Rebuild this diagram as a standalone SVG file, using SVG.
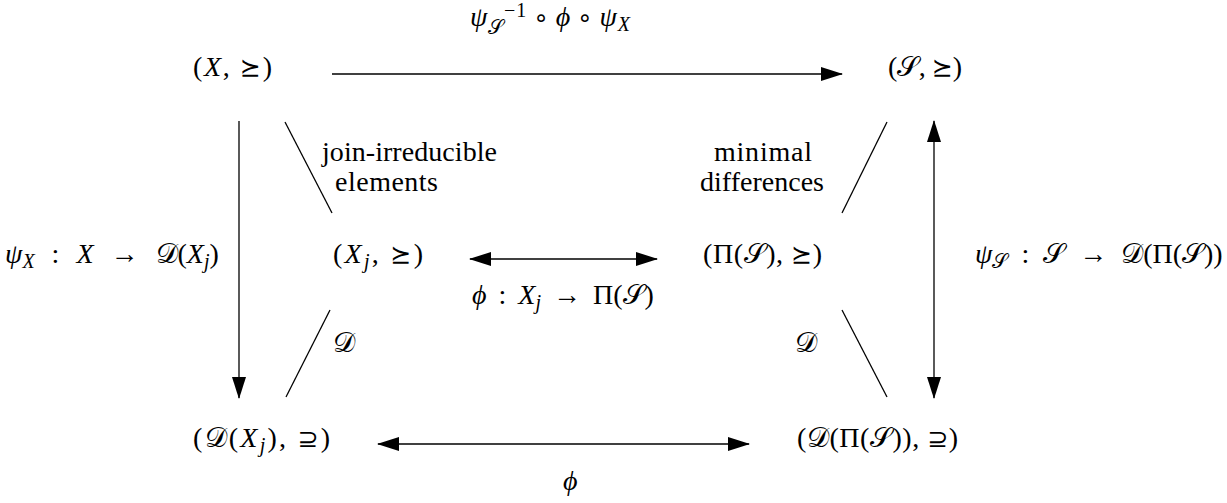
<svg xmlns="http://www.w3.org/2000/svg" width="1227" height="503" viewBox="0 0 1227 503">
<style>
text{font-family:"Liberation Serif","DejaVu Serif",serif;font-size:28px;fill:#000}
.i{font-style:italic}
.s{font-size:20px}
.sc{font-family:"DejaVu Serif","DejaVu Sans","Noto Sans",serif;font-style:normal}
.op{font-family:"DejaVu Sans","Liberation Serif",sans-serif;font-size:25px}
.ln{stroke:#000;stroke-width:1.3;fill:none}
</style>
<defs>
<marker id="ah" markerUnits="userSpaceOnUse" markerWidth="22" markerHeight="14" viewBox="0 0 22 14" refX="21" refY="7" orient="auto-start-reverse">
<path d="M0,0 L22,7 L0,14 z" fill="#000"/>
</marker>
</defs>
<rect width="1227" height="503" fill="#fff"/>
<g id="connectors">
<line class="ln" x1="332" y1="74" x2="842" y2="74" marker-end="url(#ah)"/>
<line class="ln" x1="239" y1="121" x2="239" y2="398" marker-end="url(#ah)"/>
<line class="ln" x1="934" y1="121" x2="934" y2="398" marker-start="url(#ah)" marker-end="url(#ah)"/>
<line class="ln" x1="470" y1="259" x2="657" y2="259" marker-start="url(#ah)" marker-end="url(#ah)"/>
<line class="ln" x1="378" y1="444" x2="749" y2="444" marker-start="url(#ah)" marker-end="url(#ah)"/>
<line class="ln" x1="285" y1="122" x2="332" y2="213"/>
<line class="ln" x1="887" y1="122" x2="842" y2="213"/>
<line class="ln" x1="330" y1="310" x2="286" y2="397"/>
<line class="ln" x1="842" y1="310" x2="887" y2="397"/>
</g>
<g id="labels">
<text x="470" y="26" textLength="160" lengthAdjust="spacing"><tspan class="i">ψ</tspan><tspan class="s sc" dy="8">𝒮</tspan><tspan class="s" dy="-17">−1</tspan><tspan class="op" dx="6" dy="9">∘</tspan><tspan class="i" dx="6">ϕ</tspan><tspan class="op" dx="6">∘</tspan><tspan class="i" dx="6">ψ</tspan><tspan class="s i" dy="5">X</tspan></text>
<text x="5" y="263"><tspan class="i">ψ</tspan><tspan class="s i" dy="5">X</tspan><tspan dx="17" dy="-5">:</tspan><tspan class="i" dx="17">X</tspan><tspan dx="17">→</tspan><tspan class="sc" dx="17">𝒟</tspan>(<tspan class="i">X</tspan><tspan class="s i" dy="5">j</tspan><tspan dy="-5">)</tspan></text>
<text x="975" y="263"><tspan class="i">ψ</tspan><tspan class="s sc" dy="5">𝒮</tspan><tspan dx="14" dy="-5">:</tspan><tspan class="sc" dx="14">𝒮</tspan><tspan dx="14">→</tspan><tspan class="sc" dx="14">𝒟</tspan>(Π(<tspan class="sc">𝒮</tspan>))</text>
<text x="472" y="304"><tspan class="i">ϕ</tspan><tspan dx="12">:</tspan><tspan class="i" dx="12">X</tspan><tspan class="s i" dy="5">j</tspan><tspan dx="12" dy="-5">→</tspan><tspan dx="12">Π(</tspan><tspan class="sc">𝒮</tspan>)</text>
<text x="322" y="161" textLength="175" lengthAdjust="spacing">join-irreducible</text>
<text x="335" y="191" textLength="103" lengthAdjust="spacing">elements</text>
<text x="714" y="161" textLength="98" lengthAdjust="spacing">minimal</text>
<text x="700" y="191" textLength="124" lengthAdjust="spacing">differences</text>
<text x="333" y="352" class="sc">𝒟</text>
<text x="795" y="352" class="sc">𝒟</text>
<text x="563" y="490" class="i">ϕ</text>
</g>
<g id="n-X"><text x="193" y="76" textLength="79" lengthAdjust="spacing">(<tspan class="i">X</tspan>, <tspan class="op">⪰</tspan>)</text></g>
<g id="n-S"><text x="888" y="76" textLength="74" lengthAdjust="spacing">(<tspan class="sc">𝒮</tspan>, <tspan class="op">⪰</tspan>)</text></g>
<g id="n-Xj"><text x="333" y="263" textLength="90" lengthAdjust="spacing">(<tspan class="i">X</tspan><tspan class="s i" dy="5">j</tspan><tspan dy="-5">, </tspan><tspan class="op">⪰</tspan>)</text></g>
<g id="n-PiS"><text x="703" y="263" textLength="119" lengthAdjust="spacing">(Π(<tspan class="sc">𝒮</tspan>), <tspan class="op">⪰</tspan>)</text></g>
<g id="n-DXj"><text x="193" y="447" textLength="137" lengthAdjust="spacing">(<tspan class="sc">𝒟</tspan>(<tspan class="i">X</tspan><tspan class="s i" dy="5">j</tspan><tspan dy="-5">), </tspan><tspan class="op">⊇</tspan>)</text></g>
<g id="n-DPiS"><text x="797" y="447" textLength="161" lengthAdjust="spacing">(<tspan class="sc">𝒟</tspan>(Π(<tspan class="sc">𝒮</tspan>)), <tspan class="op">⊇</tspan>)</text></g>
</svg>
